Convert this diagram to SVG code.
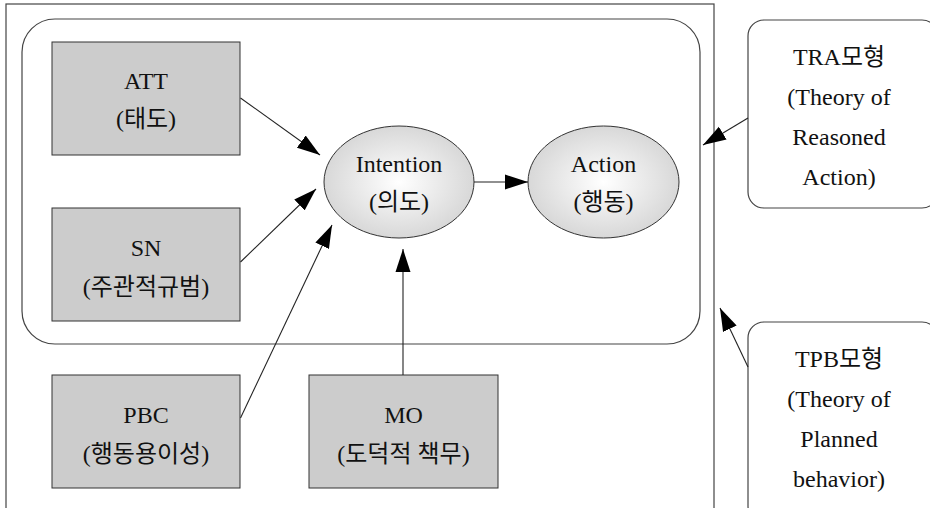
<svg xmlns="http://www.w3.org/2000/svg" width="930" height="508" viewBox="0 0 930 508" font-family="Liberation Serif, DejaVu Serif, Noto Sans CJK KR, serif">
<defs>
<marker id="ah" markerUnits="userSpaceOnUse" markerWidth="24" markerHeight="16" refX="23" refY="8" orient="auto">
<path d="M0,0.500 L23,8 L0,15.500 z" fill="#000"/>
</marker>
<radialGradient id="eg" cx="50%" cy="50%" r="55%">
<stop offset="0" stop-color="#ffffff"/>
<stop offset="1" stop-color="#d4d4d4"/>
</radialGradient>
<style>
.t{font-size:24px;fill:#111;text-anchor:middle}
.box{fill:#cccccc;stroke:#333;stroke-width:1}
.ell{fill:url(#eg);stroke:#333;stroke-width:1}
.frame{fill:none;stroke:#444;stroke-width:1.2}
.rbox{fill:#fff;stroke:#444;stroke-width:1.2}
.c{fill:none;stroke:#222;stroke-width:1.1;marker-end:url(#ah)}
</style>
</defs>
<rect id="outer" class="frame" x="6" y="4" width="708" height="520"/>
<rect id="inner" class="frame" x="22" y="19" width="678" height="325" rx="33" ry="33"/>
<g id="att">
<rect class="box" x="52" y="42" width="188" height="113"/>
<text class="t" x="146" y="89">ATT</text>
<text class="t" x="146" y="127">(태도)</text>
</g>
<g id="sn">
<rect class="box" x="52" y="208" width="188" height="113"/>
<text class="t" x="146" y="256">SN</text>
<text class="t" x="146" y="295">(주관적규범)</text>
</g>
<g id="pbc">
<rect class="box" x="52" y="375" width="188" height="113"/>
<text class="t" x="146" y="423">PBC</text>
<text class="t" x="146" y="462">(행동용이성)</text>
</g>
<g id="mo">
<rect class="box" x="309" y="375" width="189" height="113"/>
<text class="t" x="403.500" y="423">MO</text>
<text class="t" x="403.500" y="462">(도덕적 책무)</text>
</g>
<g id="intention">
<ellipse class="ell" cx="399" cy="182" rx="75" ry="56"/>
<text class="t" x="399" y="172">Intention</text>
<text class="t" x="399" y="210">(의도)</text>
</g>
<g id="action">
<ellipse class="ell" cx="603.500" cy="182" rx="75.500" ry="56"/>
<text class="t" x="603.500" y="172">Action</text>
<text class="t" x="603.500" y="210">(행동)</text>
</g>
<g id="tra">
<rect class="rbox" x="748" y="20" width="190" height="188" rx="16" ry="16"/>
<text class="t" x="839" y="65">TRA모형</text>
<text class="t" x="839" y="105">(Theory of</text>
<text class="t" x="839" y="145">Reasoned</text>
<text class="t" x="839" y="185">Action)</text>
</g>
<g id="tpb">
<rect class="rbox" x="748" y="322" width="190" height="200" rx="16" ry="16"/>
<text class="t" x="839" y="367">TPB모형</text>
<text class="t" x="839" y="407">(Theory of</text>
<text class="t" x="839" y="447">Planned</text>
<text class="t" x="839" y="487">behavior)</text>
</g>
<g id="connectors">
<path class="c" d="M240.500,98 L320,155"/>
<path class="c" d="M240.500,262 L316,189"/>
<path class="c" d="M240.500,418 L332,225"/>
<path class="c" d="M403,375 L403,249"/>
<path class="c" d="M474,182 L528,182"/>
<path class="c" d="M748,118 L703,145"/>
<path class="c" d="M748,367 L720,308"/>
</g>
</svg>
